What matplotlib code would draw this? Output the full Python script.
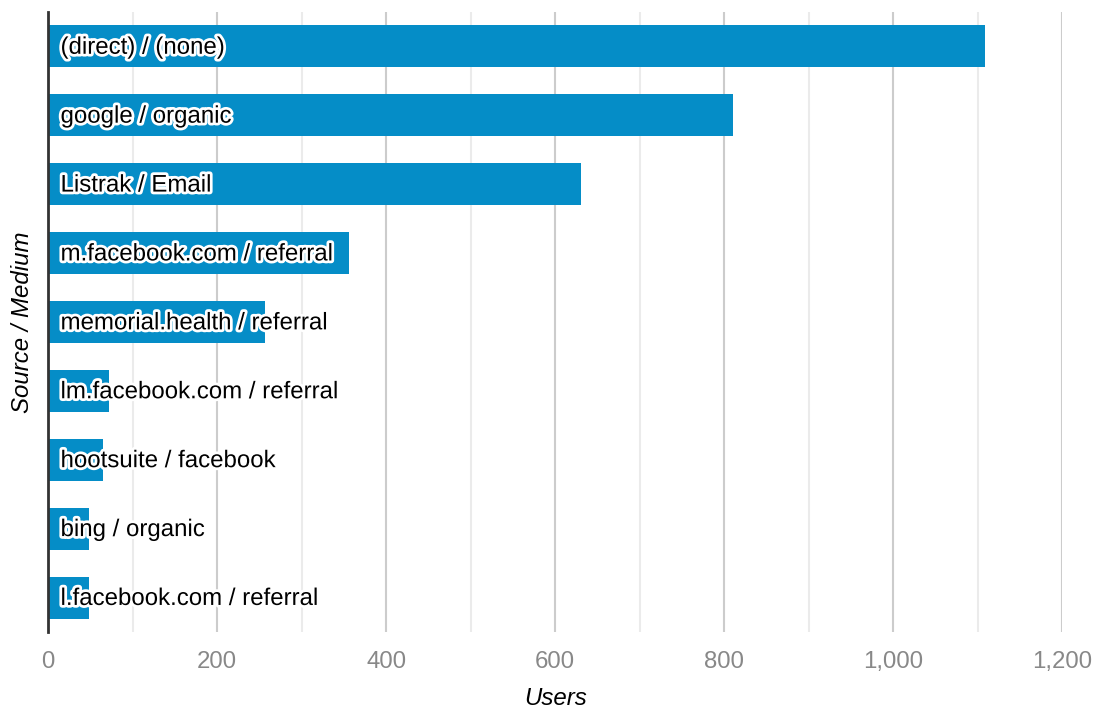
import numpy as np
import matplotlib.pyplot as plt
import matplotlib.patheffects as pe
from matplotlib.ticker import MultipleLocator, FuncFormatter

plt.rcParams['font.family'] = ['Liberation Sans', 'DejaVu Sans']

# Data
sources = ['(direct) / (none)', 'google / organic', 'Listrak / Email',
           'm.facebook.com / referral', 'memorial.health / referral',
           'lm.facebook.com / referral', 'hootsuite / facebook',
           'bing / organic', 'l.facebook.com / referral']
users = [1109, 811, 631, 356, 257, 72, 65, 49, 49]

fig = plt.figure(figsize=(10.97, 7.16), dpi=100)
ax = fig.add_axes([0.0438, 0.1173, 0.9245, 0.866])

y = np.arange(len(sources))
ax.barh(y, users, height=0.61, color='#058dc7', zorder=2)

for yi, name in zip(y, sources):
    ax.annotate(name, xy=(0, yi + 0.02), xytext=(9, 0), textcoords='offset points',
                va='center', ha='left', fontsize=17.3, color='black', zorder=3,
                path_effects=[pe.withStroke(linewidth=4, foreground='white')])

ax.set_xlim(0, 1200)
ax.set_ylim(len(sources) - 0.5, -0.5)

ax.xaxis.set_major_locator(MultipleLocator(200))
ax.xaxis.set_minor_locator(MultipleLocator(100))
ax.xaxis.set_major_formatter(FuncFormatter(lambda v, p: f'{int(v):,}'))
ax.grid(axis='x', which='major', color='#cccccc', linewidth=1.5, zorder=0)
ax.grid(axis='x', which='minor', color='#ebebeb', linewidth=1.5, zorder=0)
ax.set_axisbelow(True)

ax.set_yticks([])
ax.tick_params(axis='x', which='both', length=0, labelsize=17.3,
               labelcolor='#888888', pad=14)

for s in ['top', 'right', 'bottom']:
    ax.spines[s].set_visible(False)
ax.spines['left'].set_color('#333333')
ax.spines['left'].set_linewidth(2)
ax.spines['left'].set_zorder(4)

ax.set_xlabel('Users', fontsize=17.3, style='italic', labelpad=10)
ax.set_ylabel('Source / Medium', fontsize=17.3, style='italic', labelpad=10)

fig.savefig('out.png', dpi=100)
